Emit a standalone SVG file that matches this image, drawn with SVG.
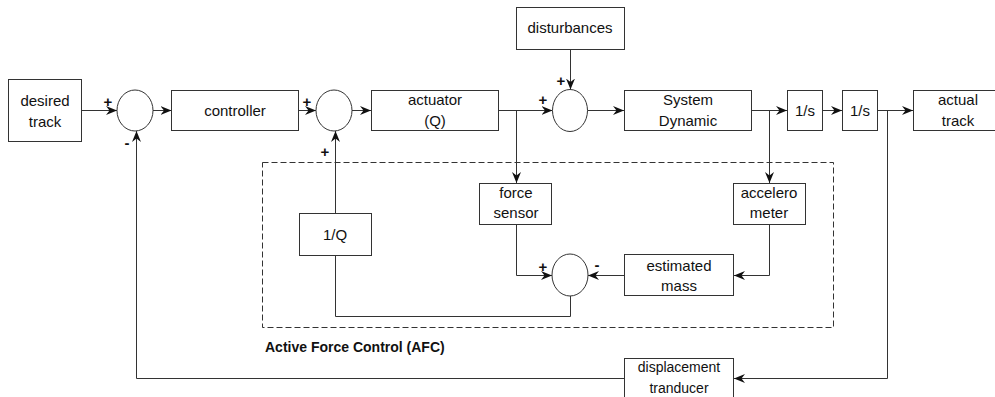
<svg xmlns="http://www.w3.org/2000/svg" width="995" height="397" viewBox="0 0 995 397">
<defs>
<marker id="arr" markerUnits="userSpaceOnUse" markerWidth="12" markerHeight="10" refX="11" refY="4.5" orient="auto">
<path d="M0,0 L11,4.5 L0,9 L3.5,4.5 z" fill="#111"/>
</marker>
<style>
.box{fill:#fff;stroke:#333;stroke-width:1}
.sum{fill:#fff;stroke:#333;stroke-width:1}
.t{font-family:"Liberation Sans",Arial,sans-serif;font-size:15px;fill:#111;text-anchor:middle}
.s{font-family:"Liberation Sans",Arial,sans-serif;font-size:15px;font-weight:bold;fill:#111;text-anchor:middle}
.ln{fill:none;stroke:#333;stroke-width:1}
.a{marker-end:url(#arr)}
.dash{fill:none;stroke:#333;stroke-width:1;stroke-dasharray:6 3}
</style>
</defs>
<rect width="995" height="397" fill="#fff"/>
<rect id="afc" class="dash" x="262.5" y="162.5" width="571" height="165"/>
<text x="265" y="352" style="font-family:'Liberation Sans',Arial,sans-serif;font-size:14px;font-weight:bold;fill:#111">Active Force Control (AFC)</text>
<g id="connectors">
<path class="ln a" d="M81.5 110.5 H117"/>
<path class="ln a" d="M153 110.5 H171.5"/>
<path class="ln a" d="M299 110.5 H316"/>
<path class="ln a" d="M352 110.5 H371"/>
<path class="ln a" d="M498 110.5 H552.5"/>
<path class="ln a" d="M516.5 110.5 V183"/>
<path class="ln a" d="M570.5 49.5 V89.5"/>
<path class="ln a" d="M587.5 110.5 H624"/>
<path class="ln a" d="M751 110.5 H787"/>
<path class="ln a" d="M769.5 110.5 V183"/>
<path class="ln a" d="M823 110.5 H842"/>
<path class="ln a" d="M877 110.5 H913"/>
<path class="ln a" d="M887.5 110.5 V378.5 H734"/>
<path class="ln a" d="M624 378.5 H136.5 V131"/>
<path class="ln a" d="M335.5 213 V131"/>
<path class="ln a" d="M516.5 224 V275.5 H552"/>
<path class="ln a" d="M769.5 224 V275.5 H734"/>
<path class="ln a" d="M624 275.5 H588"/>
<path class="ln" d="M570.5 296 V316.5 H335.5 V255"/>
</g>
<g id="desired"><rect class="box" x="8.5" y="79.5" width="73" height="62"/><text class="t" x="45" y="106">desired</text><text class="t" x="45" y="127">track</text></g>
<g id="sum1"><ellipse class="sum" cx="135" cy="110.5" rx="18" ry="20.5"/><text class="s" x="108" y="107">+</text><text class="s" x="127" y="148">-</text></g>
<g id="controller"><rect class="box" x="171.5" y="90.5" width="127" height="40"/><text class="t" x="235" y="116">controller</text></g>
<g id="sum2"><ellipse class="sum" cx="334" cy="110.5" rx="18" ry="20.5"/><text class="s" x="307" y="107">+</text><text class="s" x="325" y="157">+</text></g>
<g id="actuator"><rect class="box" x="371.5" y="90.5" width="127" height="40"/><text class="t" x="435" y="105">actuator</text><text class="t" x="435" y="126">(Q)</text></g>
<g id="disturbances"><rect class="box" x="516.5" y="7.5" width="108" height="42"/><text class="t" x="570" y="33">disturbances</text></g>
<g id="sum3"><ellipse class="sum" cx="570" cy="110.5" rx="17.5" ry="21"/><text class="s" x="543" y="105">+</text><text class="s" x="561" y="86">+</text></g>
<g id="system"><rect class="box" x="624.5" y="90.5" width="127" height="40"/><text class="t" x="688" y="105">System</text><text class="t" x="688" y="126">Dynamic</text></g>
<g id="int1"><rect class="box" x="787.5" y="90.5" width="35" height="40"/><text class="t" x="805" y="116">1/s</text></g>
<g id="int2"><rect class="box" x="842.5" y="90.5" width="35" height="40"/><text class="t" x="860" y="116">1/s</text></g>
<g id="actual"><rect class="box" x="913.5" y="90.5" width="90" height="40"/><text class="t" x="958" y="105">actual</text><text class="t" x="958" y="126">track</text></g>
<g id="force"><rect class="box" x="479.5" y="183.5" width="72" height="41"/><text class="t" x="516" y="198">force</text><text class="t" x="516" y="218">sensor</text></g>
<g id="accel"><rect class="box" x="733.5" y="183.5" width="72" height="41"/><text class="t" x="769" y="198">accelero</text><text class="t" x="769" y="218">meter</text></g>
<g id="invq"><rect class="box" x="299.5" y="213.5" width="72" height="42"/><text class="t" x="335" y="240">1/Q</text></g>
<g id="sum4"><ellipse class="sum" cx="570" cy="275" rx="18" ry="21"/><text class="s" x="543" y="272">+</text><text class="s" x="597" y="270">-</text></g>
<g id="mass"><rect class="box" x="624.5" y="254.5" width="109" height="41"/><text class="t" x="679" y="271">estimated</text><text class="t" x="679" y="291">mass</text></g>
<g id="disp"><rect class="box" x="624.5" y="358.5" width="109" height="45"/><text class="t" x="679" y="372" style="font-size:14px">displacement</text><text class="t" x="679" y="393" style="font-size:14px">tranducer</text></g>
</svg>
